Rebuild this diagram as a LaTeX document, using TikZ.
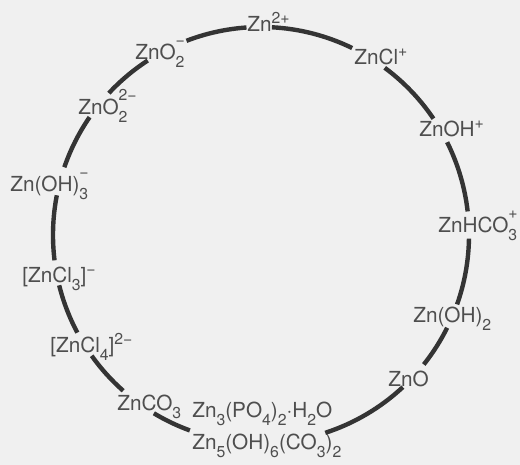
\documentclass[tikz,border=0pt]{standalone}
\usepackage{fontspec}
\setmainfont{TeX Gyre Heros}
\usepackage{tikz}
\usetikzlibrary{positioning}
\definecolor{ringgray}{RGB}{52,52,52}
\definecolor{textgray}{RGB}{78,78,78}
\definecolor{paper}{RGB}{240,240,240}
\newcommand{\chsub}[1]{\raisebox{-0.35em}{\fontsize{9}{10}\selectfont #1}}
\newcommand{\chsup}[1]{\raisebox{0.42em}{\fontsize{9}{10}\selectfont #1}}
\newcommand{\chboth}[2]{%
  \setbox0=\hbox{\fontsize{9}{10}\selectfont #1}%
  \setbox2=\hbox{\fontsize{9}{10}\selectfont #2}%
  \ifdim\wd0>\wd2 \wd2=\wd0 \fi
  \rlap{\raisebox{-0.35em}{\box0}}\raisebox{0.7em}{\box2}}

\begin{document}
\begin{tikzpicture}[
    x=0.02cm, y=0.02cm,
    species/.style={anchor=base west, inner sep=0pt, text=textgray,
                    font=\fontsize{11.8}{13}\selectfont},
    ring/.style={draw=ringgray, line width=2.5pt}
  ]
    \fill[paper] (0,0) rectangle (520,465);
    \coordinate (ctr) at (261,230);

    % zinc species round the cycle
    \node[species] at (247,433) (zn) {Zn\chsup{2+}};
    \node[species] at (354,400) (zncl) {ZnCl\chsup{+}};
    \node[species] at (419,328) (znoh) {ZnOH\chsup{+}};
    \node[species] at (438,232) (znhco) {ZnHCO\chboth{3}{+}};
    \node[species] at (413,142) (znohtwo) {Zn(OH)\chsub{2}};
    \node[species] at (388,78) (zno) {ZnO};
    \node[species] at (192,47) (phos) {Zn\chsub{3}(PO\chsub{4})\chsub{2}·H\chsub{2}O};
    \node[species] at (192,15) (hydrozinc) {Zn\chsub{5}(OH)\chsub{6}(CO\chsub{3})\chsub{2}};
    \node[species] at (117,54) (znco) {ZnCO\chsub{3}};
    \node[species] at (50,112) (zncl4) {[ZnCl\chsub{4}]\chsup{2−}};
    \node[species] at (22,182) (zncl3) {[ZnCl\chsub{3}]\chsup{−}};
    \node[species] at (10,273) (znohthree) {Zn(OH)\chboth{3}{−}};
    \node[species] at (78,350) (znotwob) {ZnO\chboth{2}{2−}};
    \node[species] at (135,405) (znotwo) {ZnO\chboth{2}{−}};

    % arcs between the labels
    \foreach \from/\to in {64/87, 34/53.5, 6.5/26.5, -19.5/-1, -38.5/-26.5,
                           -72/-47, -121/-110, -144.5/-131.5, -166/-152,
                           169/187, 145.5/161, 123/137, 94/111}
      \draw[ring] (ctr) ++(\from:208) arc[start angle=\from, end angle=\to, radius=208];
  \end{tikzpicture}
\end{document}
